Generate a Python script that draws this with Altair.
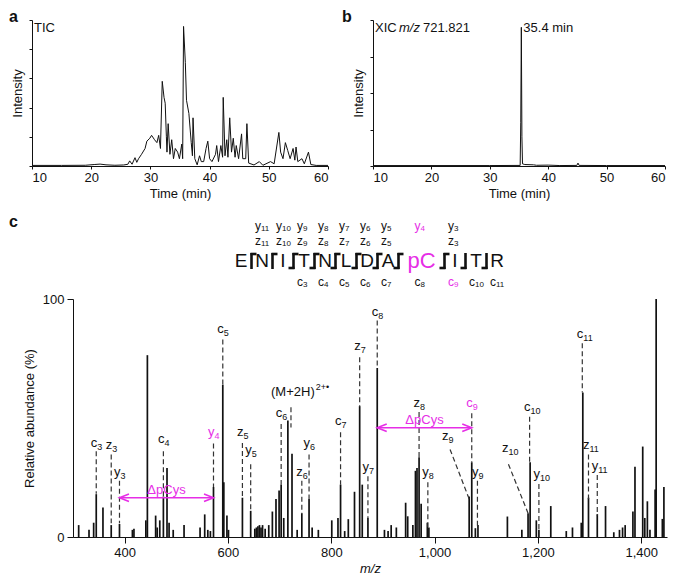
import altair as alt
import pandas as pd

FONT = "Liberation Sans"
MAGENTA = "#e62ee6"
INK = "#111111"

# ---------------- panel a : TIC ----------------
TIC_TIME = [10, 15, 19, 20.5, 21.5, 22.5, 24, 25.5, 26.2, 26.5, 26.9, 27.4, 27.7, 28.0, 28.5,
            29.1, 29.4, 29.9, 30.2, 30.7, 31.1, 31.4, 31.7, 32.0, 32.3, 32.5, 32.7, 32.8, 33.0,
            33.3, 33.6, 33.9, 34.2, 34.6, 34.9, 35.3, 35.45, 35.6, 35.9, 36.1, 36.5, 36.9, 37.1,
            37.2, 37.5, 37.9, 38.3, 38.6, 39.0, 39.4, 39.7, 40.0, 40.4, 41.0, 41.2, 41.5, 41.9,
            42.2, 42.3, 42.6, 42.9, 43.1, 43.4, 43.7, 44.0, 44.3, 44.5, 44.9, 45.4, 45.6, 46.1,
            46.3, 46.6, 47.5, 48.4, 49.0, 50.3, 50.9, 51.7, 52.0, 52.4, 52.8, 53.2, 53.6, 54.1,
            54.4, 54.6, 54.9, 55.6, 56.0, 56.7, 57.1, 58, 60]
TIC_INT = [0.4, 0.4, 0.5, 1.0, 1.3, 0.8, 0.5, 0.7, 1.2, 3.5, 1.2, 5.7, 2.5, 5.0, 8.0,
           12, 17, 19, 21, 18, 16, 21, 12, 58, 47, 43, 20, 9.5, 29,
           8, 18, 5, 12, 9.5, 5, 15, 5, 95.6, 71, 45, 36, 16, 7,
           33, 5, 0.8, 7, 3, 3, 12, 17, 5, 3, 8, 14, 3, 14,
           6, 47, 7, 18, 6, 33, 9.5, 19, 6, 14, 5, 22, 5, 5,
           29, 2, 0.7, 3, 0.5, 3, 1.5, 23, 9.5, 5, 16, 10.6, 5, 12,
           4, 13, 3, 5, 1.5, 9.5, 1, 0.4, 0.4]

# ---------------- panel b : XIC ----------------
XIC_TIME = [10, 30, 35.2, 35.3, 35.4, 35.5, 35.6, 36.0, 37.5, 38.0, 40.0, 42.0, 44.9, 45.1, 45.3, 50, 60]
XIC_INT = [0.3, 0.3, 0.4, 30, 95, 20, 1.5, 1.0, 0.8, 0.5, 0.6, 0.3, 0.4, 2.0, 0.4, 0.3, 0.3]
XIC_PEAK_TIME = 35.4
XIC_PEAK_LABEL = "35.4 min"
XIC_MZ_TEXT = "721.821"

# ---------------- panel c : spectrum ----------------
PEAK_MZ = [311, 331, 340, 345, 358, 374, 390, 415, 418, 441, 444, 460, 463, 468, 475, 482, 486, 494,
           515, 546, 555, 561, 566, 572, 590, 592, 598, 601, 628, 644, 652, 655, 658, 661, 664, 667,
           672, 679, 686, 693, 699, 703, 708, 716, 724, 734, 743, 757, 763, 775, 801, 813, 818, 826,
           833, 845, 855, 860, 871, 889, 903, 910, 916, 926, 944, 948, 958, 963, 966, 970, 974, 986,
           989, 1067, 1072, 1079, 1084, 1141, 1169, 1181, 1185, 1197, 1202, 1225, 1255, 1267, 1284,
           1287, 1298, 1315, 1331, 1347, 1358, 1364, 1369, 1384, 1388, 1403, 1407, 1412, 1417, 1427,
           1429, 1441, 1444]
PEAK_INT = [5, 3, 6, 18, 12.4, 5, 5.5, 3, 3.5, 7, 76.4, 9, 4, 7, 17, 29, 6, 3,
            5, 4, 9.5, 3, 2.5, 21, 64, 23, 9, 3, 16.5, 11, 3.5, 4, 4.5, 5, 4, 5,
            3.5, 5, 10.7, 16, 19.5, 22, 8, 49, 35, 3, 10, 16, 4, 3, 7, 8, 22, 2.5,
            7.5, 19, 55, 22, 8, 71, 3, 2.5, 5, 4, 14.4, 8.7, 5, 27.8, 29, 33.5, 14, 6,
            4, 17, 31.4, 3.7, 5, 8.6, 3, 10, 31.4, 7, 3, 13, 2.5, 4, 6,
            60.7, 16.5, 9.6, 13, 2, 3, 4, 5, 10.7, 29.5, 38, 8, 15, 3, 20,
            100, 7.6, 21]

# annotated fragment ions: type, number, m/z, label height, dashed line top / bottom (%)
ANN_ION = ["c", "z", "y", "c", "y", "c", "z", "y", "c", "z", "y", "c", "z", "y", "c", "z", "y",
           "c", "y", "c", "y", "c", "z", "y"]
ANN_NUM = ["3", "3", "3", "4", "4", "5", "5", "5", "6", "6", "6", "7", "7", "7", "8", "8", "8",
           "9", "9", "10", "10", "11", "11", "11"]
ANN_MZ = [345, 374, 390, 475, 572, 590, 628, 644, 703, 743, 757, 818, 855, 871, 889, 970, 987,
          1072, 1083, 1184, 1202, 1286, 1298, 1315]
ANN_LABEL_Y = [39.7, 38.5, 27.3, 41.0, 44.2, 87.2, 44.2, 36.4, 52.0, 27.3, 39.7, 48.8, 80.2, 29.3,
               94.6, 56.2, 27.3, 56.2, 27.3, 54.5, 26.4, 85.5, 38.8, 29.8]
ANN_DASH_TOP = [36.0, 34.7, 23.6, 36.0, 39.3, 83.0, 39.5, 30.6, 47.5, 23.6, 34.7, 44.0, 75.5, 25.5,
                91.0, 52.5, 23.0, 52.0, 23.6, 50.5, 22.3, 81.4, 34.7, 26.0]
ANN_DASH_BOTTOM = [18.2, 5.8, 5.8, 17.0, 21.0, 64.0, 17.0, 11.0, 22.0, 10.0, 16.0, 22.0, 55.0, 8.0,
                   71.0, 33.5, 3.0, 31.4, 4.5, 31.4, 2.5, 60.7, 16.0, 9.0]
HIGHLIGHT_IONS = ["y4", "c9"]

# ions labelled away from their peak (slanted leader lines)
DIAG_ION = ["z", "z"]
DIAG_NUM = ["9", "10"]
DIAG_LABEL_MZ = [1025, 1141]
DIAG_LABEL_Y = [42.3, 37.6]
DIAG_FROM_MZ = [1030, 1143]
DIAG_FROM_Y = [36.8, 30.6]
DIAG_TO_MZ = [1068, 1181]
DIAG_TO_Y = [15.4, 10.0]

PRECURSOR_MZ = 722
PRECURSOR_DASH = [54.5, 46.0]
PRECURSOR_TEXT = "(M+2H)"
PRECURSOR_SUP = "2+\u2022"
PRECURSOR_LABEL_Y = 61.0
PRECURSOR_LABEL_MZ = 768

ARROW_FROM = [390, 889]
ARROW_TO = [572, 1072]
ARROW_Y = [16.5, 45.9]
ARROW_TEXT = "\u0394pCys"

# peptide sequence & observed cleavages (site i lies after residue i)
RESIDUES = ["E", "N", "I", "T", "N", "L", "D", "A", "pC", "I", "T", "R"]
MODIFIED = "pC"
Y_IONS = [11, 10, 9, 8, 7, 6, 5, 4, 3, None, None]
Z_IONS = [11, 10, 9, 8, 7, 6, 5, None, 3, None, None]
C_IONS = [None, None, 3, 4, 5, 6, 7, 8, 9, 10, 11]

# ---------------- layout constants ----------------
A_W, B_W, P_H = 296, 292, 146
S_LEFT, S_DATA_W, S_H = 41, 594, 238
SEQ_X0, CHAR_W, MOD_W, GAP = 209, 11, 36, 10
ROW_Y, ROW_Z, ROW_RES, ROW_C = -73, -58, -38, -17
BR_TOP, BR_BOT, HOOK = -46, -30, 5


def color_of(name):
    return MAGENTA if name in HIGHLIGHT_IONS else INK


# ---------- panel a ----------
time_scale = alt.Scale(domain=[10, 60], nice=False)
time_axis = alt.Axis(values=[10, 20, 30, 40, 50, 60], title="Time (min)", tickSize=3,
                     labelPadding=2, titlePadding=3)


def int_y(values):
    return alt.Y("intensity:Q", scale=alt.Scale(domain=[0, 100], nice=False),
                 axis=alt.Axis(values=values, labels=False, title="Intensity", tickSize=3,
                               titlePadding=4))


def panel_letter(letter, xoff):
    return alt.Chart(pd.DataFrame({"label": [letter]})).mark_text(
        align="left", baseline="middle", fontSize=16, fontWeight="bold", color=INK).encode(
        x=alt.value(xoff), y=alt.value(-3), text="label:N")


tic_df = pd.DataFrame({"time": TIC_TIME, "intensity": TIC_INT})
tic_line = alt.Chart(tic_df).mark_line(color=INK, strokeWidth=1).encode(
    x=alt.X("time:Q", scale=time_scale, axis=time_axis), y=int_y([0, 20, 40, 60, 80, 100]))
tic_lab = alt.Chart(pd.DataFrame({"label": ["TIC"]})).mark_text(
    align="left", baseline="middle", fontSize=13, color=INK).encode(
    x=alt.value(2), y=alt.value(8), text="label:N")
panel_a = alt.layer(tic_line, tic_lab, panel_letter("a", -23)).properties(width=A_W, height=P_H)

# ---------- panel b ----------
xic_df = pd.DataFrame({"time": XIC_TIME, "intensity": XIC_INT})
xic_line = alt.Chart(xic_df).mark_line(color=INK, strokeWidth=1).encode(
    x=alt.X("time:Q", scale=time_scale, axis=time_axis), y=int_y([0, 25, 50, 75, 100]))
xic_parts = pd.DataFrame({"label": ["XIC", "m/z", XIC_MZ_TEXT]})
xic_t1 = alt.Chart(xic_parts.iloc[[0]]).mark_text(
    align="left", baseline="middle", fontSize=13, color=INK).encode(
    x=alt.value(2), y=alt.value(8), text="label:N")
xic_t2 = alt.Chart(xic_parts.iloc[[1]]).mark_text(
    align="left", baseline="middle", fontSize=13, fontStyle="italic", color=INK).encode(
    x=alt.value(26), y=alt.value(8), text="label:N")
xic_t3 = alt.Chart(xic_parts.iloc[[2]]).mark_text(
    align="left", baseline="middle", fontSize=13, color=INK).encode(
    x=alt.value(50), y=alt.value(8), text="label:N")
peak_lab = alt.Chart(pd.DataFrame({"time": [XIC_PEAK_TIME], "label": [XIC_PEAK_LABEL]})).mark_text(
    align="left", baseline="middle", fontSize=13, dx=2, color=INK).encode(
    x=alt.X("time:Q", scale=time_scale), y=alt.value(8), text="label:N")
panel_b = alt.layer(xic_line, xic_t1, xic_t2, xic_t3, peak_lab,
                    panel_letter("b", -31)).properties(width=B_W, height=P_H)

# ---------- panel c : spectrum ----------
MZ_SCALE = alt.Scale(domain=[300, 1450], nice=False, range=[S_LEFT, S_LEFT + S_DATA_W])
INT_SCALE = alt.Scale(domain=[0, 100], nice=False)

peaks_df = pd.DataFrame({"mz": PEAK_MZ, "int": PEAK_INT})
peaks = alt.Chart(peaks_df).mark_rule(color=INK, strokeWidth=1.7).encode(
    x=alt.X("mz:Q", scale=MZ_SCALE,
            axis=alt.Axis(values=[400, 600, 800, 1000, 1200, 1400], format=",d", title="m/z",
                          titleFontStyle="italic", tickSize=6, labelPadding=3, titlePadding=3)),
    y=alt.Y("int:Q", scale=INT_SCALE,
            axis=alt.Axis(values=[0, 100], title="Relative abundance (%)", tickSize=6,
                          labelPadding=3, titlePadding=6, offset=-S_LEFT)),
    y2=alt.datum(0))


def mz_x(field="mz"):
    return alt.X(f"{field}:Q", scale=MZ_SCALE)


def int_y2(field="int"):
    return alt.Y(f"{field}:Q", scale=INT_SCALE)


ann_df = pd.DataFrame({
    "mz": ANN_MZ, "int": ANN_LABEL_Y, "base": ANN_ION, "sub": ANN_NUM,
    "color": [color_of(i + n) for i, n in zip(ANN_ION, ANN_NUM)]})
dash_df = pd.concat([
    pd.DataFrame({"mz": ANN_MZ, "int": ANN_DASH_TOP, "int2": ANN_DASH_BOTTOM}),
    pd.DataFrame({"mz": [PRECURSOR_MZ], "int": [PRECURSOR_DASH[0]], "int2": [PRECURSOR_DASH[1]]})])
dashes = alt.Chart(dash_df).mark_rule(color="#333333", strokeWidth=1.2, strokeDash=[5, 3]).encode(
    x=mz_x(), y=int_y2(), y2="int2:Q")

diag_df = pd.DataFrame({"mz": DIAG_FROM_MZ, "mz2": DIAG_TO_MZ, "int": DIAG_FROM_Y, "int2": DIAG_TO_Y})
diags = alt.Chart(diag_df).mark_rule(color="#333333", strokeWidth=1.2, strokeDash=[5, 3]).encode(
    x=mz_x(), x2="mz2:Q", y=int_y2(), y2="int2:Q")

diag_lab_df = pd.DataFrame({"mz": DIAG_LABEL_MZ, "int": DIAG_LABEL_Y, "base": DIAG_ION,
                            "sub": DIAG_NUM, "color": [INK, INK]})
lab_df = pd.concat([ann_df, diag_lab_df])


def label_layers(df, xenc, yenc, fs=13, sfs=9, sdy=4):
    base = alt.Chart(df).mark_text(align="right", baseline="middle", fontSize=fs, dx=1).encode(
        x=xenc, y=yenc, text="base:N", color=alt.Color("color:N", scale=None))
    sub = alt.Chart(df).mark_text(align="left", baseline="middle", fontSize=sfs, dx=1, dy=sdy).encode(
        x=xenc, y=yenc, text="sub:N", color=alt.Color("color:N", scale=None))
    return [base, sub]


spec_labels = label_layers(lab_df, mz_x(), int_y2())

prec_df = pd.DataFrame({"mz": [PRECURSOR_LABEL_MZ], "int": [PRECURSOR_LABEL_Y],
                        "t": [PRECURSOR_TEXT], "s": [PRECURSOR_SUP]})
prec_main = alt.Chart(prec_df).mark_text(align="right", baseline="middle", fontSize=13, color=INK).encode(
    x=mz_x(), y=int_y2(), text="t:N")
prec_sup = alt.Chart(prec_df).mark_text(align="left", baseline="middle", fontSize=9, dx=1, dy=-5,
                                        color=INK).encode(x=mz_x(), y=int_y2(), text="s:N")

arrow_df = pd.DataFrame({"mz": ARROW_FROM, "mz2": ARROW_TO, "int": ARROW_Y,
                         "mid": [(a + b) / 2 for a, b in zip(ARROW_FROM, ARROW_TO)],
                         "t": [ARROW_TEXT] * len(ARROW_Y)})
arrow_line = alt.Chart(arrow_df).mark_rule(color=MAGENTA, strokeWidth=1.6).encode(
    x=mz_x(), x2="mz2:Q", y=int_y2())
head_l = alt.Chart(arrow_df).mark_point(shape="M2,-0.8L0,0L2,0.8", filled=False, size=90,
                                        color=MAGENTA, strokeWidth=1.6, opacity=1).encode(
    x=mz_x(), y=int_y2())
head_r = alt.Chart(arrow_df).mark_point(shape="M-2,-0.8L0,0L-2,0.8", filled=False, size=90,
                                        color=MAGENTA, strokeWidth=1.6, opacity=1).encode(
    x=mz_x("mz2"), y=int_y2())
arrow_txt = alt.Chart(arrow_df).mark_text(baseline="middle", fontSize=13, dy=-8, color=MAGENTA).encode(
    x=mz_x("mid"), y=int_y2(), text="t:N")

# ---------- sequence diagram (pixel layout above the spectrum) ----------
widths = [MOD_W if r == MODIFIED else CHAR_W for r in RESIDUES]
centers, brackets = [], []
for i, w in enumerate(widths):
    if i == 0:
        centers.append(SEQ_X0)
    else:
        right_prev = centers[-1] + widths[i - 1] / 2
        brackets.append(right_prev + GAP / 2)
        centers.append(right_prev + GAP + w / 2)

PX = alt.X("px:Q", scale=None, axis=None)
PY = alt.Y("py:Q", scale=None, axis=None)

res_df = pd.DataFrame({
    "px": centers, "py": [ROW_RES] * len(RESIDUES), "t": RESIDUES,
    "color": [MAGENTA if r == MODIFIED else INK for r in RESIDUES],
    "fs": [22 if r == MODIFIED else 19 for r in RESIDUES]})
res_text = alt.Chart(res_df).mark_text(align="center", baseline="middle").encode(
    x=PX, y=PY, text="t:N", color=alt.Color("color:N", scale=None), size=alt.Size("fs:Q", scale=None))

vert_df = pd.DataFrame({"px": brackets, "py": [BR_TOP] * len(brackets), "py2": [BR_BOT] * len(brackets)})
vert = alt.Chart(vert_df).mark_rule(color=INK, strokeWidth=2.6).encode(x=PX, y=PY, y2="py2:Q")
top_sites = [b for b, yy, zz in zip(brackets, Y_IONS, Z_IONS) if yy is not None or zz is not None]
bot_sites = [b for b, cc in zip(brackets, C_IONS) if cc is not None]
hooks_df = pd.concat([
    pd.DataFrame({"px": [b - 1 for b in top_sites], "px2": [b + HOOK for b in top_sites],
                  "py": [BR_TOP + 1] * len(top_sites)}),
    pd.DataFrame({"px": [b - HOOK for b in bot_sites], "px2": [b + 1 for b in bot_sites],
                  "py": [BR_BOT - 1] * len(bot_sites)})])
hooks = alt.Chart(hooks_df).mark_rule(color=INK, strokeWidth=2.6).encode(x=PX, x2="px2:Q", y=PY)

# ion labels sit over / under the residue that follows each cleavage site
seq_lab_rows = []
for k, (yy, zz, cc) in enumerate(zip(Y_IONS, Z_IONS, C_IONS)):
    lx = centers[k + 1] - 2
    for ion, n, row in (("y", yy, ROW_Y), ("z", zz, ROW_Z), ("c", cc, ROW_C)):
        if n is not None:
            seq_lab_rows.append({"px": lx, "py": row, "base": ion, "sub": str(n),
                                 "color": color_of(f"{ion}{n}")})
seq_labels = label_layers(pd.DataFrame(seq_lab_rows), PX, PY, fs=12, sfs=8, sdy=3)

c_lab = alt.Chart(pd.DataFrame({"label": ["c"]})).mark_text(
    align="left", baseline="middle", fontSize=16, fontWeight="bold", color=INK).encode(
    x=alt.value(-23), y=alt.value(-77), text="label:N")

spectrum = alt.layer(
    peaks, dashes, diags, *spec_labels, prec_main, prec_sup, arrow_line, head_l, head_r, arrow_txt,
    vert, hooks, res_text, *seq_labels, c_lab
).properties(width=S_LEFT + S_DATA_W, height=S_H)

top = alt.hconcat(panel_a, panel_b, spacing=10)
chart = alt.vconcat(top, spectrum, spacing=12).properties(
    padding={"left": 0, "top": 0, "right": 0, "bottom": 0}
).configure_view(stroke="transparent").configure_axis(
    grid=False, domainColor=INK, tickColor=INK, labelColor=INK, titleColor=INK,
    labelFont=FONT, titleFont=FONT, labelFontSize=13, titleFontSize=13, titleFontWeight="normal",
    domainWidth=1, tickWidth=1
).configure_text(font=FONT)

chart.save("out.html", embed_options={"renderer": "svg", "actions": False})
